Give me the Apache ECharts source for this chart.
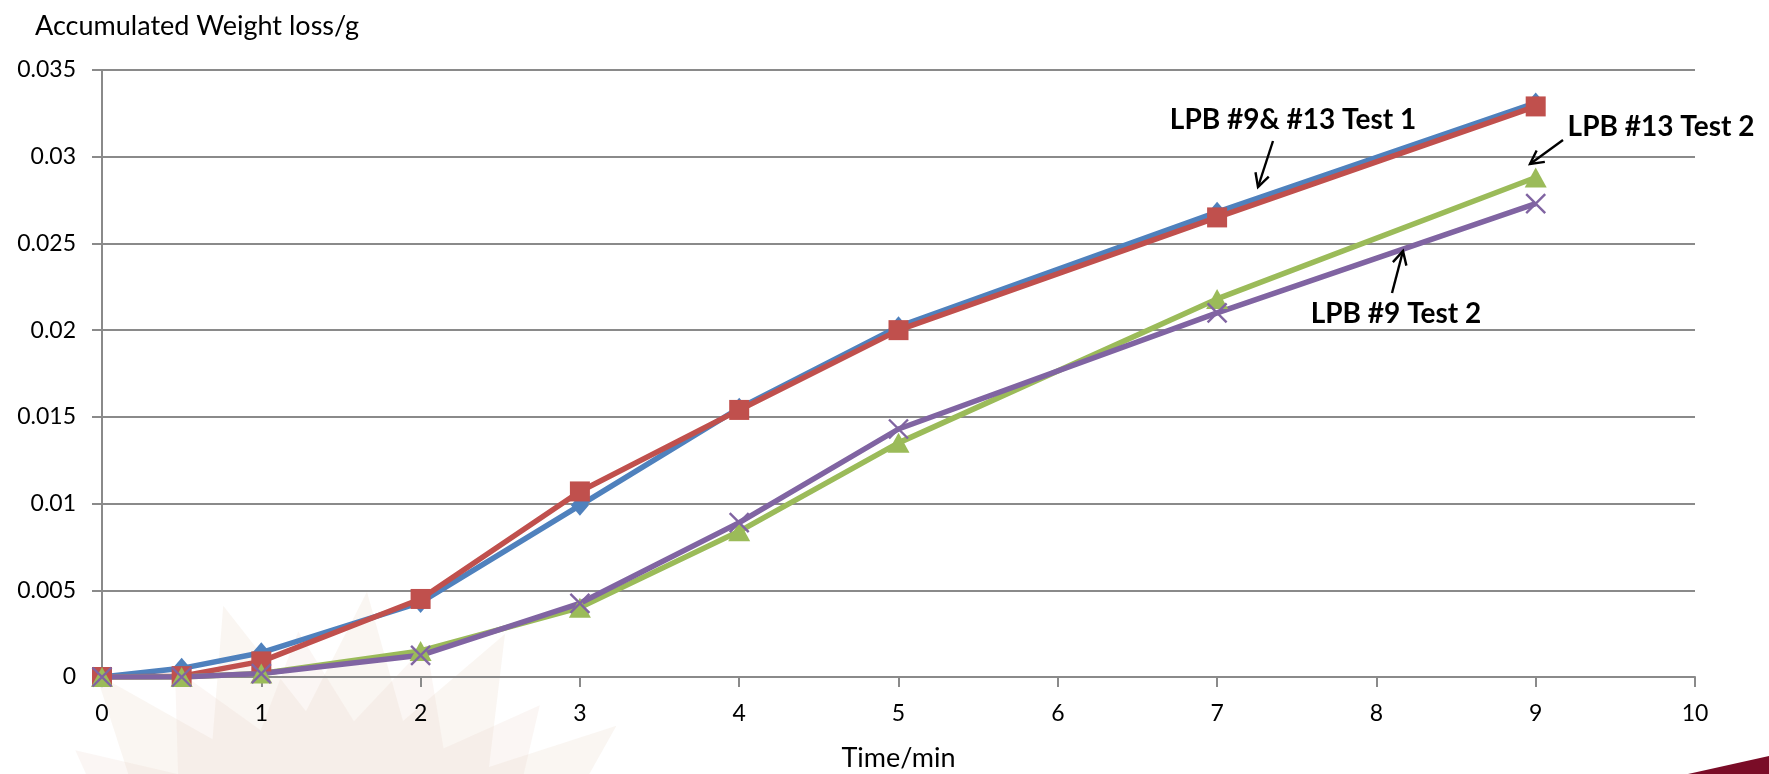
<!DOCTYPE html>
<html>
<head>
<meta charset="utf-8">
<script src="https://cdn.jsdelivr.net/npm/echarts@6/dist/echarts.min.js"></script>
<style>
  html, body { margin: 0; padding: 0; background: #fff; }
  #chart { width: 1769px; height: 774px; }
</style>
</head>
<body>
<div id="chart"></div>
<script>
// Elapsed time (min) at each weighing
const times = [0, 0.5, 1, 2, 3, 4, 5, 7, 9];

// Accumulated weight loss (g) per test
const lpb9Test1  = [0, 0.0005, 0.0014, 0.0043, 0.0099, 0.0155, 0.0202, 0.0268, 0.0331];
const lpb13Test1 = [0, 0.00005, 0.0009, 0.0045, 0.0107, 0.0154, 0.0200, 0.0265, 0.0329];
const lpb13Test2 = [0, 0, 0.0002, 0.0015, 0.0040, 0.0084, 0.0135, 0.0218, 0.0288];
const lpb9Test2  = [0, 0, 0.0002, 0.00125, 0.00425, 0.0089, 0.0143, 0.0210, 0.0273];

const seriesNames = ['LPB #9 Test 1', 'LPB #13 Test 1', 'LPB #13 Test 2', 'LPB #9 Test 2'];

const pair = (ys) => times.map((t, i) => [t, ys[i]]);

const FONT = 'Lato, "Open Sans", sans-serif';
const AXIS_GREY = '#8a8a8a';

// Callout labels with their arrows (pixel positions on the canvas)
const callouts = [
  { text: 'LPB #9& #13 Test 1', x: 1293, y: 120, from: [1273, 141], to: [1258, 187] },
  { text: 'LPB #13 Test 2',     x: 1661, y: 127, from: [1563, 140], to: [1530, 164] },
  { text: 'LPB #9 Test 2',      x: 1396, y: 314, from: [1392, 293], to: [1403, 251] }
];

function arrowElements(c) {
  const [x1, y1] = c.from, [x2, y2] = c.to;
  const ang = Math.atan2(y1 - y2, x1 - x2);
  const len = 15, spread = Math.PI / 6.5;
  const a = [x2 + len * Math.cos(ang + spread), y2 + len * Math.sin(ang + spread)];
  const b = [x2 + len * Math.cos(ang - spread), y2 + len * Math.sin(ang - spread)];
  return [
    { type: 'line', shape: { x1, y1, x2, y2 }, style: { stroke: '#000', lineWidth: 2.4 }, z: 100 },
    { type: 'polyline', shape: { points: [a, [x2, y2], b] }, style: { stroke: '#000', lineWidth: 2.4, fill: null }, z: 100 }
  ];
}

// Faint starburst emblem behind the lower-left of the plot
function starburst(cx, cy, rOut, rIn, n, rot) {
  const pts = [];
  for (let i = 0; i < n * 2; i++) {
    const r = i % 2 === 0 ? rOut : rIn;
    const t = rot + (i * Math.PI) / n;
    pts.push([cx + r * Math.cos(t), cy + r * Math.sin(t)]);
  }
  return pts;
}

const decor = [
  { type: 'polygon', shape: { points: starburst(330, 960, 370, 250, 16, -Math.PI / 2 + 0.1) },
    style: { fill: 'rgba(238, 222, 210, 0.28)' }, z: -10, silent: true },
  { type: 'polygon', shape: { points: starburst(330, 960, 330, 240, 16, -Math.PI / 2 + 0.1 + Math.PI / 16) },
    style: { fill: 'rgba(232, 200, 186, 0.16)' }, z: -9, silent: true },
  { type: 'polygon', shape: { points: [[1688, 774], [1769, 756], [1769, 774]] },
    style: { fill: '#7a0c27' }, z: -5, silent: true }
];

const graphics = decor.slice();
callouts.forEach(c => {
  graphics.push({
    type: 'text', x: c.x, y: c.y, z: 100,
    style: { text: c.text, font: 'bold 28px ' + FONT, fill: '#000', align: 'center', verticalAlign: 'middle' }
  });
  arrowElements(c).forEach(e => graphics.push(e));
});

const chart = echarts.init(document.getElementById('chart'), null, { renderer: 'canvas' });

const lineSeries = (name, ys, color, symbol, size, extra) => Object.assign({
  name, type: 'line', data: pair(ys),
  symbol, symbolSize: size, showAllSymbol: true,
  lineStyle: { color, width: 5.5 },
  itemStyle: { color },
  emphasis: { disabled: true },
  animation: false
}, extra || {});

chart.setOption({
  backgroundColor: '#fff',
  animation: false,
  title: {
    text: 'Accumulated Weight loss/g',
    left: 30, top: 8,
    textStyle: { fontFamily: FONT, fontSize: 27, fontWeight: 'normal', color: '#000' }
  },
  grid: { left: 102, right: 74, top: 70, bottom: 97, containLabel: false, outerBoundsMode: 'none' },
  xAxis: {
    type: 'value', min: 0, max: 10, interval: 1,
    name: 'Time/min', nameLocation: 'middle', nameGap: 68,
    nameTextStyle: { fontFamily: FONT, fontSize: 27, color: '#000' },
    axisLine: { show: true, onZero: false, lineStyle: { color: AXIS_GREY, width: 2 } },
    axisTick: { show: true, length: 10, lineStyle: { color: AXIS_GREY, width: 2 } },
    axisLabel: { fontFamily: FONT, fontSize: 23, color: '#000', margin: 25 },
    splitLine: { show: false }
  },
  yAxis: {
    type: 'value', min: 0, max: 0.035, interval: 0.005,
    axisLine: { show: true, lineStyle: { color: AXIS_GREY, width: 2 } },
    axisTick: { show: true, length: 10, lineStyle: { color: AXIS_GREY, width: 2 } },
    axisLabel: {
      fontFamily: FONT, fontSize: 23, color: '#000', margin: 26,
      formatter: v => (Math.round(v * 1000) / 1000).toString()
    },
    splitLine: { show: true, lineStyle: { color: AXIS_GREY, width: 2 } }
  },
  graphic: graphics,
  series: [
    lineSeries(seriesNames[0], lpb9Test1, '#4f81bd', 'diamond', [18, 21]),
    lineSeries(seriesNames[1], lpb13Test1, '#c0504d', 'rect', 20),
    lineSeries(seriesNames[2], lpb13Test2, '#9bbb59', 'triangle', [22, 20]),
    lineSeries(seriesNames[3], lpb9Test2, '#8064a2', 'path://M0,0L10,10M10,0L0,10', 19, {
      itemStyle: { color: '#8064a2', borderColor: '#8064a2', borderWidth: 2.4 }
    })
  ]
});
</script>
</body>
</html>
